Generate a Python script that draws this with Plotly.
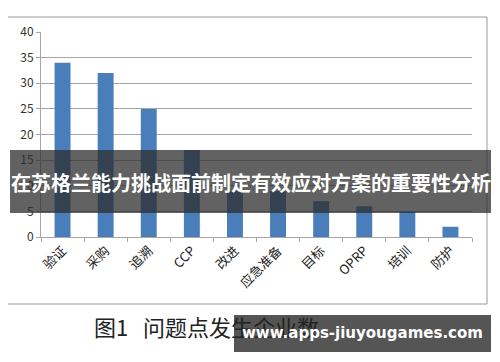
import plotly.graph_objects as go

categories = ["验证", "采购", "追溯", "CCP", "改进", "应急准备", "目标", "OPRP", "培训", "防护"]
values = [34, 32, 25, 17, 9, 9, 7, 6, 5, 2]
y_ticks = [0, 5, 10, 15, 20, 25, 30, 35, 40]

# page body has an 8px margin, so figure coordinates = page coordinates - 8
OFF = 8
L, R, T, B = 41 - OFF, 472 - OFF, 32 - OFF, 237 - OFF
W, H = 500, 362
pw, ph = R - L, B - T

def px(x):
    return (x - OFF - L) / pw

def py(y):
    return (B - (y - OFF)) / ph

fig = go.Figure(go.Bar(x=categories, y=values, marker=dict(color="#4a7ebb", line=dict(width=0)), width=0.37))

fig.update_layout(
    width=W, height=H,
    margin=dict(l=L, r=W - R, t=T, b=H - B, autoexpand=False),
    paper_bgcolor="white", plot_bgcolor="white",
    showlegend=False,
    font=dict(family="Noto Sans CJK SC, DejaVu Sans", color="#333"),
)
fig.update_yaxes(range=[0, 40], tickvals=y_ticks, showgrid=True, gridcolor="#a6a6a6", gridwidth=1,
                 showline=True, linecolor="#a6a6a6", ticks="outside", ticklen=4, tickcolor="#a6a6a6",
                 tickfont=dict(size=12, color="#333"), zeroline=False, automargin=False)
fig.update_xaxes(showline=True, linecolor="#a6a6a6", ticks="outside", ticklen=4, tickcolor="#a6a6a6",
                 tickson="boundaries", tickangle=-45, tickfont=dict(size=13, color="#222"), automargin=False)

shapes = [
    dict(type="rect", xref="paper", yref="paper", x0=px(7), x1=px(487), y0=py(304), y1=py(17),
         line=dict(color="#999", width=1), fillcolor="rgba(0,0,0,0)", layer="below"),
    dict(type="rect", xref="paper", yref="paper", x0=px(10), x1=px(491), y0=py(213), y1=py(150),
         line=dict(width=0), fillcolor="rgba(45,45,45,0.75)", layer="above"),
    dict(type="rect", xref="paper", yref="paper", x0=px(234), x1=px(491), y0=py(352), y1=py(315),
         line=dict(width=0), fillcolor="#555555", layer="above"),
]
fig.update_layout(shapes=shapes)

fig.add_annotation(xref="paper", yref="paper", x=px(250.5), y=py(182), xanchor="center", yanchor="middle",
                   showarrow=False,
                   text="<b>在苏格兰能力挑战面前制定有效应对方案的重要性分析</b>",
                   font=dict(size=20, color="white", family="Noto Sans CJK SC"))
fig.add_annotation(xref="paper", yref="paper", x=px(92), y=py(326), xanchor="left", yanchor="middle",
                   showarrow=False,
                   text="图1   问题点发生企业数",
                   font=dict(size=22, color="#222", family="Noto Sans CJK SC"))
fig.add_annotation(xref="paper", yref="paper", x=px(362), y=py(333), xanchor="center", yanchor="middle",
                   showarrow=False,
                   text="<b>www.apps-jiuyougames.com</b>",
                   font=dict(size=15, color="white", family="DejaVu Sans"))

fig.write_html("out.html")
